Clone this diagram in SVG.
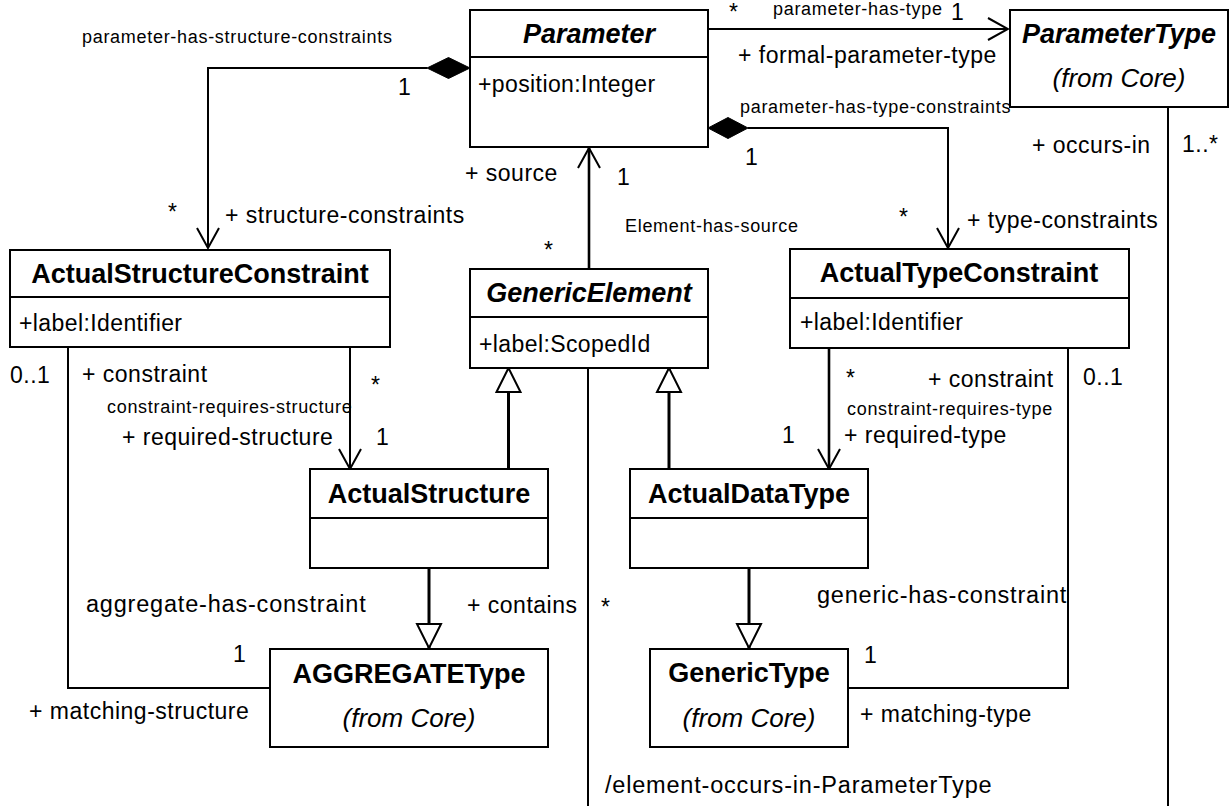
<svg xmlns="http://www.w3.org/2000/svg" width="1229" height="806" viewBox="0 0 1229 806">
<defs>
<style>
text{font-family:"Liberation Sans",Arial,Helvetica,sans-serif;fill:#000}
.box{fill:#fff;stroke:#000;stroke-width:2}
.div{stroke:#000;stroke-width:2}
.title{font-size:27px;font-weight:bold;text-anchor:middle}
.abs{font-style:italic}
.from{font-size:26px;font-style:italic;text-anchor:middle}
.attr{font-size:23px;letter-spacing:0.4px}
.lbl{font-size:23px;letter-spacing:0.5px}
.big{font-size:23.5px;letter-spacing:0.8px}
.sm{font-size:18px;letter-spacing:0.7px}
.line{fill:none;stroke:#000;stroke-width:2}
.thick{fill:none;stroke:#000;stroke-width:2.6}
.gen{fill:none;stroke:#000;stroke-width:3}
.dia{fill:#000;stroke:#000;stroke-width:1}
</style>
<marker id="open" markerUnits="userSpaceOnUse" viewBox="-1 -1 22 24" refX="20" refY="11" markerWidth="22" markerHeight="24" orient="auto"><path d="M0,0 L20,11 L0,22" fill="none" stroke="#000" stroke-width="2"/></marker>
<marker id="tri" markerUnits="userSpaceOnUse" viewBox="-2 -2 28 28" refX="24" refY="12" markerWidth="28" markerHeight="28" orient="auto"><path d="M0,0 L24,12 L0,24 Z" fill="#fff" stroke="#000" stroke-width="2"/></marker>
</defs>
<rect width="1229" height="806" fill="#fff"/>

<g id="connectors">
  <path class="line" d="M708,29 H1008" marker-end="url(#open)"/>
  <path class="line" d="M427,68 H208 V248" marker-end="url(#open)"/>
  <polygon class="dia" points="470,68 448.5,57.5 427,68 448.5,78.5"/>
  <path class="line" d="M748,128 H948 V248" marker-end="url(#open)"/>
  <polygon class="dia" points="708,128 728,117.5 748,128 728,138.5"/>
  <path class="thick" d="M589,269 V148" marker-end="url(#open)"/>
  <path class="gen" d="M508.5,469 V368" marker-end="url(#tri)"/>
  <path class="gen" d="M669,469 V368" marker-end="url(#tri)"/>
  <path class="gen" d="M429,568 V648" marker-end="url(#tri)"/>
  <path class="gen" d="M749,568 V648" marker-end="url(#tri)"/>
  <path class="line" d="M350,347 V469" marker-end="url(#open)"/>
  <path class="thick" d="M829,348 V469" marker-end="url(#open)"/>
  <path class="line" d="M68,347 V688 H270"/>
  <path class="line" d="M1068,348 V688 H848"/>
  <path class="line" d="M588,368 V806"/>
  <path class="line" d="M1168,107 V806"/>

  <!-- parameter-has-type -->
  <text class="lbl" x="729" y="20">*</text>
  <text class="sm" x="773" y="15">parameter-has-type</text>
  <text class="lbl" x="951" y="20">1</text>
  <text class="lbl" x="738" y="63">+ formal-parameter-type</text>
  <!-- parameter-has-structure-constraints -->
  <text class="sm" x="82" y="43">parameter-has-structure-constraints</text>
  <text class="lbl" x="398" y="95">1</text>
  <text class="lbl" x="168" y="220">*</text>
  <text class="lbl" x="225" y="223">+ structure-constraints</text>
  <!-- parameter-has-type-constraints -->
  <text class="sm" x="740" y="113">parameter-has-type-constraints</text>
  <text class="lbl" x="745" y="165">1</text>
  <text class="lbl" x="899" y="225">*</text>
  <text class="lbl" x="967" y="228">+ type-constraints</text>
  <!-- Element-has-source -->
  <text class="lbl" x="465" y="181">+ source</text>
  <text class="lbl" x="617" y="185">1</text>
  <text class="sm" x="625" y="232">Element-has-source</text>
  <text class="lbl" x="544" y="258">*</text>
  <!-- constraint-requires-structure -->
  <text class="lbl" x="10" y="383">0..1</text>
  <text class="lbl" x="82" y="382">+ constraint</text>
  <text class="lbl" x="371" y="393">*</text>
  <text class="sm" x="107" y="413">constraint-requires-structure</text>
  <text class="lbl" x="122" y="445">+ required-structure</text>
  <text class="lbl" x="376" y="445">1</text>
  <!-- constraint-requires-type -->
  <text class="lbl" x="846" y="386">*</text>
  <text class="lbl" x="928" y="387">+ constraint</text>
  <text class="lbl" x="1083" y="385">0..1</text>
  <text class="sm" x="847" y="415">constraint-requires-type</text>
  <text class="lbl" x="782" y="443">1</text>
  <text class="lbl" x="844" y="443">+ required-type</text>
  <!-- aggregate-has-constraint -->
  <text class="big" x="86" y="612">aggregate-has-constraint</text>
  <text class="lbl" x="233" y="662">1</text>
  <text class="lbl" x="29" y="719">+ matching-structure</text>
  <text class="lbl" x="467" y="613">+ contains</text>
  <!-- generic-has-constraint -->
  <text class="big" x="817" y="603">generic-has-constraint</text>
  <text class="lbl" x="864" y="663">1</text>
  <text class="lbl" x="860" y="722">+ matching-type</text>
  <!-- element-occurs-in-ParameterType -->
  <text class="lbl" x="601" y="615">*</text>
  <text class="big" x="605" y="793">/element-occurs-in-ParameterType</text>
  <text class="lbl" x="1032" y="153">+ occurs-in</text>
  <text class="lbl" x="1182" y="152">1..*</text>
</g>

<g id="Parameter">
  <rect class="box" x="470" y="10" width="238" height="137"/>
  <line class="div" x1="470" y1="57" x2="708" y2="57"/>
  <text class="title abs" x="589" y="43">Parameter</text>
  <text class="attr" x="478" y="92">+position:Integer</text>
</g>
<g id="ParameterType">
  <rect class="box" x="1010" y="10" width="218" height="97"/>
  <text class="title abs" x="1119" y="43">ParameterType</text>
  <text class="from" x="1119" y="87">(from Core)</text>
</g>
<g id="ActualStructureConstraint">
  <rect class="box" x="10" y="250" width="380" height="97"/>
  <line class="div" x1="10" y1="297" x2="390" y2="297"/>
  <text class="title" x="200" y="283">ActualStructureConstraint</text>
  <text class="attr" x="19" y="331">+label:Identifier</text>
</g>
<g id="GenericElement">
  <rect class="box" x="470" y="269" width="238" height="99"/>
  <line class="div" x1="470" y1="317" x2="708" y2="317"/>
  <text class="title abs" x="589" y="302">GenericElement</text>
  <text class="attr" x="479" y="352">+label:ScopedId</text>
</g>
<g id="ActualTypeConstraint">
  <rect class="box" x="790" y="249" width="339" height="99"/>
  <line class="div" x1="790" y1="298" x2="1129" y2="298"/>
  <text class="title" x="959" y="282">ActualTypeConstraint</text>
  <text class="attr" x="800" y="330">+label:Identifier</text>
</g>
<g id="ActualStructure">
  <rect class="box" x="310" y="469" width="238" height="99"/>
  <line class="div" x1="310" y1="518" x2="548" y2="518"/>
  <text class="title" x="429" y="503">ActualStructure</text>
</g>
<g id="ActualDataType">
  <rect class="box" x="630" y="469" width="238" height="99"/>
  <line class="div" x1="630" y1="518" x2="868" y2="518"/>
  <text class="title" x="749" y="503">ActualDataType</text>
</g>
<g id="AGGREGATEType">
  <rect class="box" x="270" y="649" width="278" height="98"/>
  <text class="title" x="409" y="683">AGGREGATEType</text>
  <text class="from" x="409" y="727">(from Core)</text>
</g>
<g id="GenericType">
  <rect class="box" x="650" y="649" width="198" height="98"/>
  <text class="title" x="749" y="682">GenericType</text>
  <text class="from" x="749" y="727">(from Core)</text>
</g>
</svg>
